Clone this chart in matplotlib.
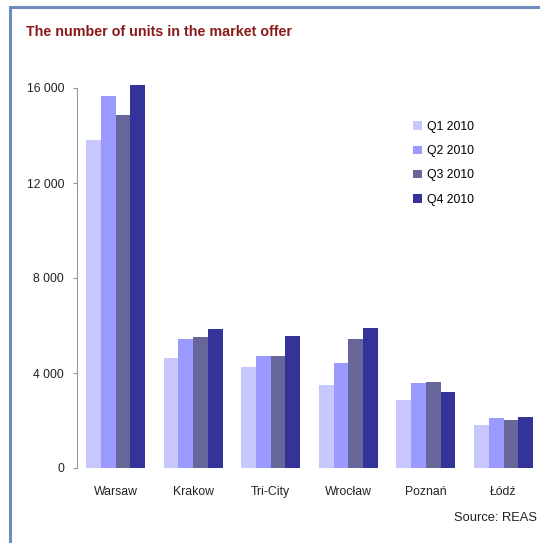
import matplotlib.pyplot as plt
from matplotlib.patches import Rectangle, Patch
from matplotlib.ticker import FuncFormatter

cities = ["Warsaw", "Krakow", "Tri-City", "Wrocław", "Poznań", "Łódź"]
quarters = ["Q1 2010", "Q2 2010", "Q3 2010", "Q4 2010"]
q1 = [13800, 4620, 4270, 3490, 2860, 1810]
q2 = [15650, 5430, 4730, 4410, 3570, 2090]
q3 = [14860, 5520, 4730, 5420, 3630, 2020]
q4 = [16130, 5870, 5570, 5910, 3210, 2160]
colors = ["#c8c8ff", "#9999ff", "#666699", "#333399"]

W, H = 540, 543
fig = plt.figure(figsize=(W / 100, H / 100), dpi=100)
plt.rcParams["font.family"] = ["Liberation Sans", "DejaVu Sans"]

# outer frame
fig.add_artist(Rectangle((10 / W, -0.05), 1.1, 1 - 7 / H + 0.05,
                         transform=fig.transFigure, fill=False,
                         edgecolor="#6f8cc0", linewidth=2.2))

fig.text(26 / W, 1 - 32 / H, "The number of units in the market offer",
         color="#8b1a1a", fontsize=10.3, fontweight="bold", va="center", ha="left")

ax = fig.add_axes([76.7 / W, (H - 468) / H, (540 - 76.7) / W, 384.75 / H])
bw = 0.19
for i, (vals, c) in enumerate(zip([q1, q2, q3, q4], colors)):
    xs = [k + (i - 1.5) * bw for k in range(len(cities))]
    ax.bar(xs, vals, width=bw, color=c, edgecolor="none")

ax.set_xlim(-0.5, 5.47)
ax.set_ylim(0, 16200)
ax.set_yticks([0, 4000, 8000, 12000, 16000])
ax.yaxis.set_major_formatter(FuncFormatter(lambda v, p: f"{int(v):,}".replace(",", " ")))
ax.set_xticks(range(len(cities)))
ax.set_xticklabels(cities)
ax.tick_params(axis="x", length=0, pad=13, labelsize=8.8, colors="#222222")
ax.tick_params(axis="y", length=3, width=0.8, color="#999999", pad=6,
               labelsize=8.8, labelcolor="#222222")
for s in ["top", "right", "bottom"]:
    ax.spines[s].set_visible(False)
ax.spines["left"].set_color("#999999")
ax.spines["left"].set_bounds(0, 16000)

handles = [Patch(facecolor=c, edgecolor="none") for c in colors]
fig.legend(handles, quarters, loc="upper left",
           bbox_to_anchor=(402 / W, 1 - 110 / H), frameon=False,
           fontsize=8.8, handlelength=0.7, handleheight=0.7,
           handletextpad=0.45, labelspacing=1.0)

fig.text(537 / W, 1 - 518 / H, "Source: REAS", fontsize=9.3,
         ha="right", va="center", color="#222222")

fig.savefig("out.png", dpi=100)
